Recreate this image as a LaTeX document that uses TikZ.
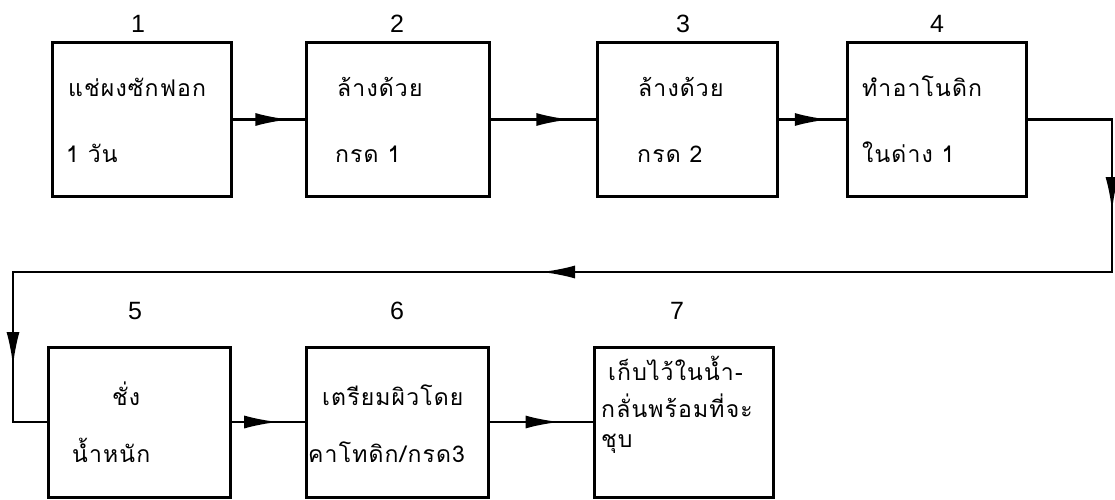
\documentclass[tikz,border=0pt]{standalone}
\usepackage{fontspec}
\newfontfamily\thai[Script=Thai,LetterSpace=5]{Loma}
\newfontfamily\numfont{Liberation Sans}
\usetikzlibrary{arrows.meta,decorations.markings}
\tikzset{
  x=1pt,y=-1pt,
  box/.style={draw,line width=3pt,minimum width=#1,minimum height=153pt,inner sep=0pt},
  lbl/.style={anchor=base west,inner sep=0pt,font=\thai\fontsize{23}{26}\selectfont},
  num/.style={anchor=base,inner sep=0pt,font=\numfont\fontsize{25}{26}\selectfont},
  conn/.style={line width=2.6pt,postaction={decorate},
    decoration={markings,mark=at position #1 with {\arrow{Latex[length=34pt,width=13pt]}}}},
  ret/.style={line width=2.6pt,line join=miter,postaction={decorate},
    decoration={markings,
      mark=at position 176pt with {\arrow{Latex[length=34pt,width=13pt]}},
      mark=at position 808pt with {\arrow{Latex[length=34pt,width=13pt]}},
      mark=at position 1430pt with {\arrow{Latex[length=34pt,width=13pt]}}}}
}
\begin{document}
\begin{tikzpicture}
\useasboundingbox[fill=white] (0,0) rectangle (1115,500);
% top row
\node[box=179pt] (b1) at (141.5,119.5) {};
\node[box=183pt] (b2) at (397.5,119.5) {};
\node[box=180pt] (b3) at (687,119.5) {};
\node[box=179pt] (b4) at (936.5,119.5) {};
% bottom row
\node[box=182pt,minimum height=150pt] (b5) at (139,422) {};
\node[box=182pt,minimum height=150pt] (b6) at (397,422) {};
\node[box=179pt,minimum height=150pt] (b7) at (683.5,422) {};
% numbers
\node[num] (n1) at (138,33) {1};
\node[num] (n2) at (397,33) {2};
\node[num] (n3) at (683,33) {3};
\node[num] (n4) at (937,33) {4};
\node[num] (n5) at (135,319) {5};
\node[num] (n6) at (397,319) {6};
\node[num] (n7) at (677,319) {7};
% texts
\node[lbl] (t1a) at (68,97) {แช่ผงซักฟอก};
\node[lbl] (t1b) at (66,162) {1 วัน};
\node[lbl] (t2a) at (337,97) {ล้างด้วย};
\node[lbl] (t2b) at (335,162) {กรด 1};
\node[lbl] (t3a) at (638,97) {ล้างด้วย};
\node[lbl] (t3b) at (637,162) {กรด 2};
\node[lbl] (t4a) at (862,97) {ทำอาโนดิก};
\node[lbl] (t4b) at (862,162) {ในด่าง 1};
\node[lbl] (t5a) at (112,405) {ชั่ง};
\node[lbl] (t5b) at (72,462) {น้ำหนัก};
\node[lbl] (t6a) at (322,405) {เตรียมผิวโดย};
\node[lbl] (t6b) at (308,462) {คาโทดิก/กรด3};
\node[lbl] (t7a) at (608,380) {เก็บไว้ในน้ำ-};
\node[lbl] (t7b) at (601,417) {กลั่นพร้อมที่จะ};
\node[lbl] (t7c) at (601,447) {ชุบ};
% connectors
\draw[conn=0.79] (b1.east) -- (b2.west);
\draw[conn=0.76] (b2.east) -- (b3.west);
\draw[conn=0.75] (b3.east) -- (b4.west);
\draw[conn=0.64] (b5.east) -- (b6.west);
\draw[conn=0.68] (b6.east) -- (b7.west);
\coordinate (c1) at (1112,119.5);
\coordinate (c2) at (1112,272);
\coordinate (c3) at (13,272);
\coordinate (c4) at (13,422);
\draw[ret] (b4.east) -- (c1) -- (c2) -- (c3) -- (c4) -- (b5.west);
\end{tikzpicture}
\end{document}
